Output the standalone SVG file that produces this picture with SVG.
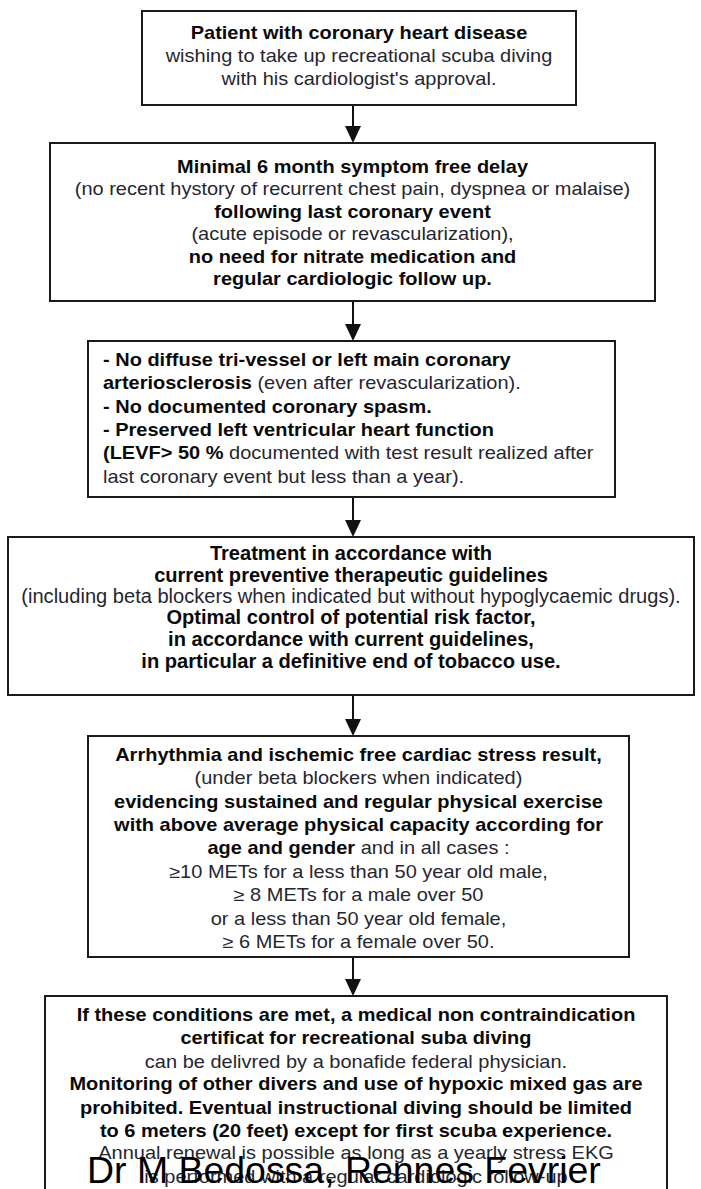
<svg xmlns="http://www.w3.org/2000/svg" width="701" height="1189" viewBox="0 0 701 1189">
<style>
  .box { fill: #ffffff; stroke: #1a1a1a; stroke-width: 2; }
  .t { font-family: "Liberation Sans", Arial, sans-serif; font-size: 17.7px; fill: #262630; }
  .t4 { font-family: "Liberation Sans", Arial, sans-serif; font-size: 19.5px; fill: #262630; }
  .b { font-weight: bold; fill: #0a0a0a; }
  .c { text-anchor: middle; }
  .edge { stroke: #111; stroke-width: 2; fill: none; }
  .head { fill: #111; }
  .foot { font-family: "Liberation Sans", Arial, sans-serif; font-size: 36px; fill: #000; }
</style>
<rect width="701" height="1189" fill="#ffffff"/>

<g id="connectors">
  <line class="edge" x1="353" y1="105" x2="353" y2="130"/>
  <path class="head" d="M345,126 L361,126 L353,143 Z"/>
  <line class="edge" x1="353" y1="301" x2="353" y2="328"/>
  <path class="head" d="M345,324 L361,324 L353,341 Z"/>
  <line class="edge" x1="353" y1="497" x2="353" y2="524"/>
  <path class="head" d="M345,520 L361,520 L353,537 Z"/>
  <line class="edge" x1="353" y1="695" x2="353" y2="723"/>
  <path class="head" d="M345,719 L361,719 L353,736 Z"/>
  <line class="edge" x1="353" y1="957" x2="353" y2="983"/>
  <path class="head" d="M345,979 L361,979 L353,996 Z"/>
</g>

<g id="node1">
  <rect class="box" x="142" y="11" width="434" height="94"/>
  <g transform="translate(359,0) scale(1.13,1)">
    <text class="t c b" x="0" y="39">Patient with coronary heart disease</text>
    <text class="t c" x="0" y="62">wishing to take up recreational scuba diving</text>
    <text class="t c" x="0" y="85">with his cardiologist's approval.</text>
  </g>
</g>

<g id="node2">
  <rect class="box" x="50" y="143" width="605" height="158"/>
  <g transform="translate(352.5,0) scale(1.13,1)">
    <text class="t c b" x="0" y="173">Minimal 6 month symptom free delay</text>
    <text class="t c" x="0" y="195.5">(no recent hystory of recurrent chest pain, dyspnea or malaise)</text>
    <text class="t c b" x="0" y="218">following last coronary event</text>
    <text class="t c" x="0" y="240.5">(acute episode or revascularization),</text>
    <text class="t c b" x="0" y="263">no need for nitrate medication and</text>
    <text class="t c b" x="0" y="285.5">regular cardiologic follow up.</text>
  </g>
</g>

<g id="node3">
  <rect class="box" x="88" y="341" width="527" height="156"/>
  <g transform="translate(103,0) scale(1.13,1)">
    <text class="t b" x="0" y="366">- No diffuse tri-vessel or left main coronary</text>
    <text class="t" x="0" y="389.5"><tspan class="b">arteriosclerosis</tspan> (even after revascularization).</text>
    <text class="t b" x="0" y="413">- No documented coronary spasm.</text>
    <text class="t b" x="0" y="436">- Preserved left ventricular heart function</text>
    <text class="t" x="0" y="459.5"><tspan class="b">(LEVF&gt; 50 %</tspan> documented with test result realized after</text>
    <text class="t" x="0" y="483">last coronary event but less than a year).</text>
  </g>
</g>

<g id="node4">
  <rect class="box" x="8" y="537" width="686" height="158"/>
  <g transform="translate(351,0) scale(1.03,1)">
    <text class="t4 c b" x="0" y="560">Treatment in accordance with</text>
    <text class="t4 c b" x="0" y="582">current preventive therapeutic guidelines</text>
    <text class="t4 c" x="0" y="603.5">(including beta blockers when indicated but without hypoglycaemic drugs).</text>
    <text class="t4 c b" x="0" y="624.5">Optimal control of potential risk factor,</text>
    <text class="t4 c b" x="0" y="646">in accordance with current guidelines,</text>
    <text class="t4 c b" x="0" y="668">in particular a definitive end of tobacco use.</text>
  </g>
</g>

<g id="node5">
  <rect class="box" x="88" y="736" width="541" height="221"/>
  <g transform="translate(358.5,0) scale(1.13,1)">
    <text class="t c b" x="0" y="761">Arrhythmia and ischemic free cardiac stress result,</text>
    <text class="t c" x="0" y="784.5">(under beta blockers when indicated)</text>
    <text class="t c b" x="0" y="808">evidencing sustained and regular physical exercise</text>
    <text class="t c b" x="0" y="831">with above average physical capacity according for</text>
    <text class="t c" x="0" y="854.5"><tspan class="b">age and gender</tspan> and in all cases :</text>
    <text class="t c" x="0" y="878">≥10 METs for a less than 50 year old male,</text>
    <text class="t c" x="0" y="901.5">≥ 8 METs for a male over 50</text>
    <text class="t c" x="0" y="925">or a less than 50 year old female,</text>
    <text class="t c" x="0" y="948.5">≥ 6 METs for a female over 50.</text>
  </g>
</g>

<g id="node6">
  <rect class="box" x="45" y="996" width="622" height="200"/>
  <g transform="translate(356,0) scale(1.13,1)">
    <text class="t c b" x="0" y="1021">If these conditions are met, a medical non contraindication</text>
    <text class="t c b" x="0" y="1044">certificat for recreational suba diving</text>
    <text class="t c" x="0" y="1068">can be delivred by a bonafide federal physician.</text>
    <text class="t c b" x="0" y="1090.5">Monitoring of other divers and use of hypoxic mixed gas are</text>
    <text class="t c b" x="0" y="1114">prohibited. Eventual instructional diving should be limited</text>
    <text class="t c b" x="0" y="1137.5">to 6 meters (20 feet) except for first scuba experience.</text>
    <text class="t c" x="0" y="1159">Annual renewal is possible as long as a yearly stress EKG</text>
    <text class="t c" x="0" y="1183">is performed with a regular cardiologic follow-up</text>
  </g>
</g>

<g id="footer">
  <text class="foot" x="87" y="1183" transform="translate(87,0) scale(1.04,1) translate(-87,0)">Dr M Bedossa, Rennes Fevrier</text>
</g>
</svg>
